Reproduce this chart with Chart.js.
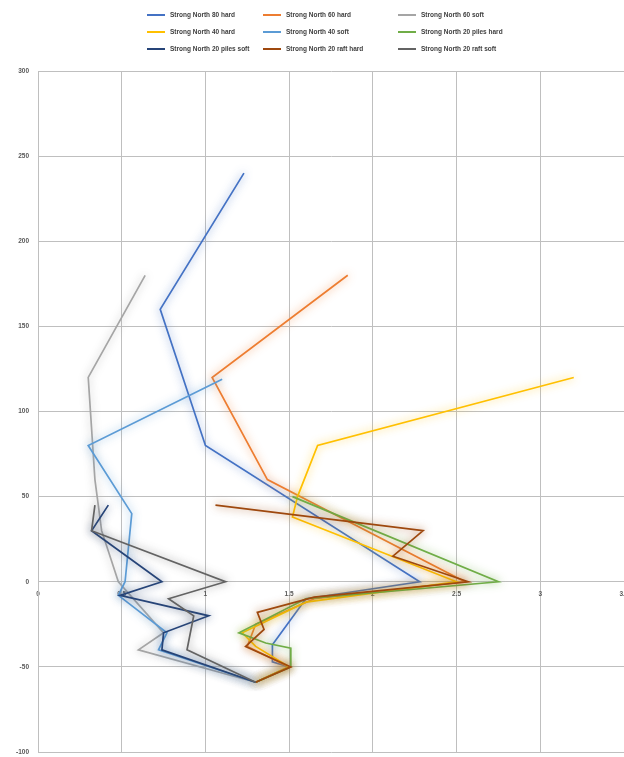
<!DOCTYPE html>
<html>
<head>
<meta charset="utf-8">
<script src="https://cdn.jsdelivr.net/npm/chart.js@4/dist/chart.umd.min.js"></script>
<style>
  html, body { margin: 0; padding: 0; background: #fff; }
  #wrap { position: relative; width: 624px; height: 757px; }
  #legend {
    position: absolute; left: 0; top: 8px; width: 624px;
    font: bold 6.5px "Liberation Sans", Arial, sans-serif; color: #404040;
  }
  .item { position: absolute; height: 10px; line-height: 10px; white-space: nowrap; }
  .item span.sw { display: inline-block; width: 18px; height: 2px; vertical-align: middle; margin-right: 5px; }
</style>
</head>
<body>
<div id="wrap">
  <canvas id="chart" width="624" height="757"></canvas>
  <div id="legend"></div>
</div>
<script>
// depth (y) and value (x) per series
const north80HardX = [1.23, 0.73, 1.00, 2.28, 1.60, 1.40, 1.40, 1.50, 1.30];
const north80HardY = [240, 160, 80, 0, -10, -37, -47, -50, -59];

const north60HardX = [1.85, 1.04, 1.37, 2.55, 1.65, 1.30, 1.25, 1.50, 1.30];
const north60HardY = [180, 120, 60, 0, -10, -25, -38, -50, -59];

const north60SoftX = [0.64, 0.30, 0.34, 0.38, 0.48, 0.75, 0.60, 1.30];
const north60SoftY = [180, 120, 60, 30, 0, -30, -40, -59];

const north40HardX = [3.20, 1.67, 1.55, 1.52, 2.50, 1.60, 1.22, 1.30, 1.50, 1.30];
const north40HardY = [120, 80, 50, 38, 0, -12, -30, -38, -50, -59];

const north40SoftX = [1.10, 0.30, 0.56, 0.52, 0.48, 0.77, 0.72, 1.30];
const north40SoftY = [119, 80, 40, 0, -8, -30, -40, -59];

const north20PilesHardX = [1.52, 2.75, 1.60, 1.20, 1.36, 1.51, 1.51, 1.30];
const north20PilesHardY = [50, 0, -10, -30, -36, -39, -50, -59];

const north20PilesSoftX = [0.42, 0.32, 0.74, 0.49, 1.02, 0.75, 0.74, 1.30];
const north20PilesSoftY = [45, 30, 0, -8, -20, -30, -40, -59];

const north20RaftHardX = [1.06, 2.30, 2.12, 2.57, 1.65, 1.31, 1.35, 1.24, 1.51, 1.30];
const north20RaftHardY = [45, 30, 15, 0, -9, -18, -28, -38, -50, -59];

const north20RaftSoftX = [0.34, 0.32, 1.12, 0.78, 0.93, 0.89, 1.30];
const north20RaftSoftY = [45, 30, 0, -10, -20, -40, -59];

const seriesLabels = [
  "Strong North 80 hard", "Strong North 60 hard", "Strong North 60 soft",
  "Strong North 40 hard", "Strong North 40 soft", "Strong North 20 piles hard",
  "Strong North 20 piles soft", "Strong North 20 raft hard", "Strong North 20 raft soft"
];
const seriesX = [north80HardX, north60HardX, north60SoftX, north40HardX, north40SoftX,
  north20PilesHardX, north20PilesSoftX, north20RaftHardX, north20RaftSoftX];
const seriesY = [north80HardY, north60HardY, north60SoftY, north40HardY, north40SoftY,
  north20PilesHardY, north20PilesSoftY, north20RaftHardY, north20RaftSoftY];
const colors = ["#4472C4", "#ED7D31", "#A5A5A5", "#FFC000", "#5B9BD5",
  "#70AD47", "#264478", "#9E480E", "#636363"];

const rgba = (hex, a) => {
  const n = parseInt(hex.slice(1), 16);
  return `rgba(${(n >> 16) & 255},${(n >> 8) & 255},${n & 255},${a})`;
};

// soft glow round each line, like the office chart effect
const glow = {
  id: "glow",
  beforeDatasetDraw(chart, args) {
    const ctx = chart.ctx;
    ctx.save();
    ctx.shadowColor = rgba(args.meta.dataset.options.borderColor, 0.8);
    ctx.shadowBlur = 9;
  },
  afterDatasetDraw(chart) {
    chart.ctx.restore();
  },
};

const datasets = seriesLabels.map((label, i) => ({
  label: label,
  data: seriesX[i].map((x, j) => ({ x: x, y: seriesY[i][j] })),
  borderColor: colors[i],
  backgroundColor: colors[i],
  borderWidth: 1.7,
  pointRadius: 0,
  showLine: true,
  tension: 0,
  order: seriesLabels.length - i,
}));

const gridColor = "#bfbfbf";
const tickFont = { family: "'Liberation Sans', Arial, sans-serif", size: 6.5, weight: "bold" };

new Chart(document.getElementById("chart"), {
  type: "scatter",
  data: { datasets: datasets },
  options: {
    responsive: false,
    animation: false,
    layout: { padding: { top: 71, bottom: 5, left: 0, right: 0 } },
    plugins: { legend: { display: false }, tooltip: { enabled: false } },
    scales: {
      x: {
        type: "linear",
        position: { y: 0 },
        min: 0,
        max: 3.5,
        ticks: { stepSize: 0.5, color: "#595959", font: tickFont, padding: 9,
          callback: (v) => String(v) },
        grid: { color: gridColor, drawTicks: false },
        border: { color: gridColor },
        afterFit: (scale) => { scale.paddingLeft = 0; scale.paddingRight = 0; },
      },
      y: {
        type: "linear",
        min: -100,
        max: 300,
        ticks: { stepSize: 50, color: "#595959", font: tickFont, padding: 9 },
        grid: { color: gridColor, drawTicks: false },
        border: { color: gridColor },
        afterFit: (scale) => { scale.width = 38; scale.paddingTop = 0; scale.paddingBottom = 0; },
      },
    },
  },
  plugins: [glow],
});

// legend in three columns as in the picture
const colLeft = [147, 263, 398];
const rowTop = [10, 27, 44];
const legend = document.getElementById("legend");
seriesLabels.forEach((label, i) => {
  const el = document.createElement("div");
  el.className = "item";
  el.style.left = colLeft[i % 3] + "px";
  el.style.top = (rowTop[Math.floor(i / 3)] - 8) + "px";
  el.innerHTML = `<span class="sw" style="background:${colors[i]}"></span>${label}`;
  legend.appendChild(el);
});
</script>
</body>
</html>
